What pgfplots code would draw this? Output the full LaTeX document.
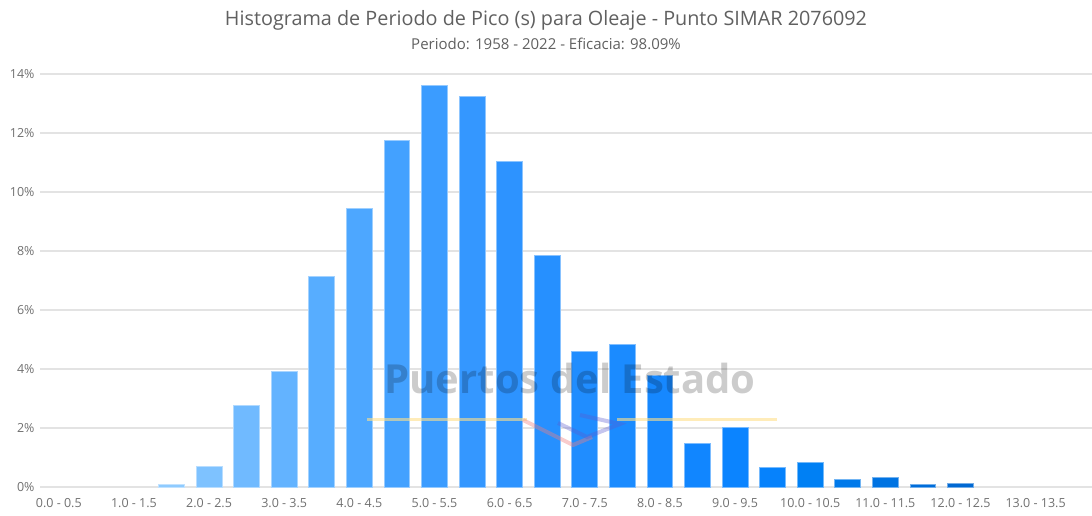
\documentclass[border=0pt]{standalone}
\usepackage{fontspec}
\setmainfont{Open Sans}
\usepackage{pgfplots}
\pgfplotsset{compat=1.18}

\definecolor{txt}{HTML}{606060}
\definecolor{tick}{HTML}{707070}
\definecolor{gridc}{HTML}{E3E3E3}
\definecolor{c3}{HTML}{8FCBFF}
\definecolor{c4}{HTML}{7EC2FF}
\definecolor{c5}{HTML}{70BAFF}
\definecolor{c6}{HTML}{63B3FF}
\definecolor{c7}{HTML}{57ADFF}
\definecolor{c8}{HTML}{4DA7FF}
\definecolor{c9}{HTML}{43A1FF}
\definecolor{c10}{HTML}{3B9CFF}
\definecolor{c11}{HTML}{3497FF}
\definecolor{c12}{HTML}{2D93FF}
\definecolor{c13}{HTML}{2690FF}
\definecolor{c14}{HTML}{208DFF}
\definecolor{c15}{HTML}{1B8BFF}
\definecolor{c16}{HTML}{1688FF}
\definecolor{c17}{HTML}{1186FF}
\definecolor{c18}{HTML}{0B84FF}
\definecolor{c19}{HTML}{0682FC}
\definecolor{c20}{HTML}{0080F4}
\definecolor{c21}{HTML}{0079EA}
\definecolor{c22}{HTML}{0073E2}
\definecolor{c23}{HTML}{006DDA}
\definecolor{c24}{HTML}{0068D2}
\definecolor{wmyellow}{HTML}{FFE08A}
\definecolor{wmred}{HTML}{F08080}
\definecolor{wmblue}{HTML}{5A5ACF}

\pgfplotsset{
  hbar/.style={ybar, bar width=0.69, bar shift=0pt, fill=#1, draw=#1!55!white, line width=0.8pt},
}

\begin{document}
\begin{tikzpicture}
\path[use as bounding box] (-40pt,-28pt) rectangle (1052pt,487pt);

\begin{axis}[
    scale only axis,
    width=1052pt, height=413pt,
    xmin=-0.5, xmax=27.5,
    ymin=0, ymax=14,
    axis line style={draw=none},
    major tick length=0pt,
    ytick={0,2,...,14},
    yticklabel={\pgfmathprintnumber{\tick}\%},
    xtick={0,2,...,26},
    xticklabels={0.0 - 0.5, 1.0 - 1.5, 2.0 - 2.5, 3.0 - 3.5, 4.0 - 4.5, 5.0 - 5.5, 6.0 - 6.5,
                 7.0 - 7.5, 8.0 - 8.5, 9.0 - 9.5, 10.0 - 10.5, 11.0 - 11.5, 12.0 - 12.5, 13.0 - 13.5},
    ymajorgrids,
    major grid style={gridc, line width=1.2pt},
    tick label style={font=\fontsize{12.5}{14}\selectfont, text=tick},
    xticklabel style={yshift=-8pt},
    yticklabel style={xshift=-2pt},
    /pgf/number format/assume math mode=true,
    clip=false,
]
\addplot[hbar=c3]  coordinates {(3,0.09)};
\addplot[hbar=c4]  coordinates {(4,0.69)};
\addplot[hbar=c5]  coordinates {(5,2.76)};
\addplot[hbar=c6]  coordinates {(6,3.92)};
\addplot[hbar=c7]  coordinates {(7,7.15)};
\addplot[hbar=c8]  coordinates {(8,9.46)};
\addplot[hbar=c9]  coordinates {(9,11.75)};
\addplot[hbar=c10] coordinates {(10,13.63)};
\addplot[hbar=c11] coordinates {(11,13.25)};
\addplot[hbar=c12] coordinates {(12,11.05)};
\addplot[hbar=c13] coordinates {(13,7.84)};
\addplot[hbar=c14] coordinates {(14,4.58)};
\addplot[hbar=c15] coordinates {(15,4.82)};
\addplot[hbar=c16] coordinates {(16,3.77)};
\addplot[hbar=c17] coordinates {(17,1.49)};
\addplot[hbar=c18] coordinates {(18,2.01)};
\addplot[hbar=c19] coordinates {(19,0.65)};
\addplot[hbar=c20] coordinates {(20,0.83)};
\addplot[hbar=c21] coordinates {(21,0.26)};
\addplot[hbar=c22] coordinates {(22,0.31)};
\addplot[hbar=c23] coordinates {(23,0.09)};
\addplot[hbar=c24] coordinates {(24,0.13)};
\end{axis}

% watermark
\node[text=black, opacity=0.2, font=\fontsize{40}{44}\selectfont\bfseries] at (530pt,109pt) {Puertos del Estado};
\draw[wmyellow, opacity=0.6, line width=3pt] (327pt,68pt) -- (487pt,68pt);
\draw[wmyellow, opacity=0.6, line width=3pt] (577pt,68pt) -- (737pt,68pt);
\draw[wmred, opacity=0.4, line width=4pt] (483pt,67pt) -- (533pt,42pt) -- (552pt,50pt);
\draw[wmblue, opacity=0.35, line width=4pt] (518pt,64pt) -- (547pt,50pt) -- (580pt,63pt) -- (540pt,72pt);

% titles
\node[text=txt, font=\fontsize{19.8}{23}\selectfont] at (506pt,467pt) {Histograma de Periodo de Pico (s) para Oleaje - Punto SIMAR 2076092};
\node[text=txt, font=\fontsize{15}{18}\selectfont] at (506pt,443pt) {Periodo: 1958 - 2022 - Eficacia: 98.09\%};
\end{tikzpicture}
\end{document}
